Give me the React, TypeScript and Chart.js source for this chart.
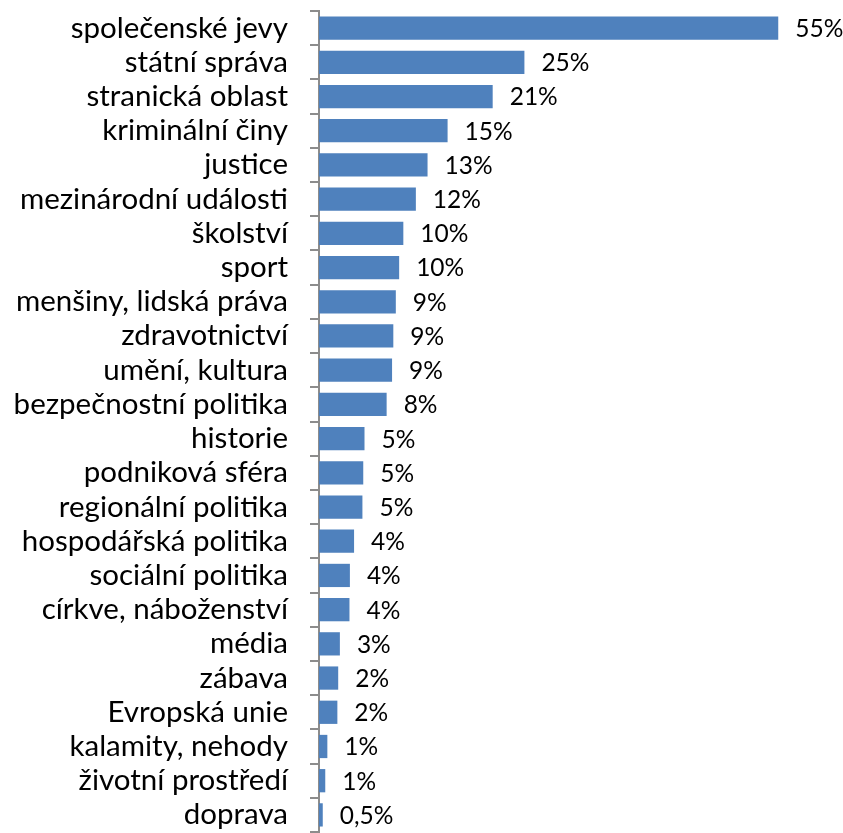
import React, { useEffect, useRef } from "react";
import { Chart, registerables } from "chart.js";

Chart.register(...registerables);

const categories = [
  "společenské jevy",
  "státní správa",
  "stranická oblast",
  "kriminální činy",
  "justice",
  "mezinárodní události",
  "školství",
  "sport",
  "menšiny, lidská práva",
  "zdravotnictví",
  "umění, kultura",
  "bezpečnostní politika",
  "historie",
  "podniková sféra",
  "regionální politika",
  "hospodářská politika",
  "sociální politika",
  "církve, náboženství",
  "média",
  "zábava",
  "Evropská unie",
  "kalamity, nehody",
  "životní prostředí",
  "doprava",
];

const values = [
  55, 24.6, 20.8, 15.4, 13.0, 11.6, 10.1, 9.6, 9.2, 8.9, 8.75, 8.1, 5.45, 5.3,
  5.2, 4.2, 3.7, 3.65, 2.5, 2.3, 2.2, 1.0, 0.75, 0.45,
];

const valueLabels = [
  "55%", "25%", "21%", "15%", "13%", "12%", "10%", "10%", "9%", "9%", "9%",
  "8%", "5%", "5%", "5%", "4%", "4%", "4%", "3%", "2%", "2%", "1%", "1%",
  "0,5%",
];

const FONT = "Lato, 'Open Sans', sans-serif";

const valueLabelPlugin = {
  id: "valueLabels",
  afterDatasetsDraw(chart: any) {
    const ctx = chart.ctx;
    const meta = chart.getDatasetMeta(0);
    ctx.save();
    ctx.font = `24.5px ${FONT}`;
    ctx.fillStyle = "#000000";
    ctx.textAlign = "left";
    ctx.textBaseline = "middle";
    meta.data.forEach((bar: any, i: number) => {
      ctx.fillText(valueLabels[i], bar.x + 17, bar.y + 1);
    });
    ctx.restore();
  },
};

export default function App() {
  const canvasRef = useRef<HTMLCanvasElement | null>(null);

  useEffect(() => {
    if (!canvasRef.current) return;
    const chart = new Chart(canvasRef.current, {
      type: "bar",
      data: {
        labels: categories,
        datasets: [
          {
            data: values,
            backgroundColor: "#4f81bd",
            borderWidth: 0,
            barPercentage: 0.68,
            categoryPercentage: 1,
          },
        ],
      },
      options: {
        indexAxis: "y",
        animation: false,
        responsive: false,
        maintainAspectRatio: false,
        layout: { padding: { top: 11, bottom: 1, left: 0, right: 23 } },
        plugins: {
          legend: { display: false },
          tooltip: { enabled: false },
        },
        scales: {
          x: {
            display: false,
            min: 0,
            max: 60,
          },
          y: {
            afterFit: (scale: any) => {
              scale.width = 319;
              scale.paddingTop = 0;
              scale.paddingBottom = 0;
            },
            border: { display: true, color: "#8c8c8c", width: 2 },
            grid: {
              display: true,
              drawOnChartArea: false,
              drawTicks: true,
              tickLength: 9,
              color: "#8c8c8c",
              lineWidth: 2,
              offset: true,
            },
            ticks: {
              autoSkip: false,
              padding: 22,
              color: "#000000",
              font: { family: FONT, size: 29.5 },
            },
          },
        },
      },
      plugins: [valueLabelPlugin],
    });
    return () => chart.destroy();
  }, []);

  return (
    <div style={{ position: "absolute", left: 0, top: 0, width: 843, height: 833 }}>
      <canvas ref={canvasRef} width={843} height={833} style={{ display: "block" }} />
    </div>
  );
}
